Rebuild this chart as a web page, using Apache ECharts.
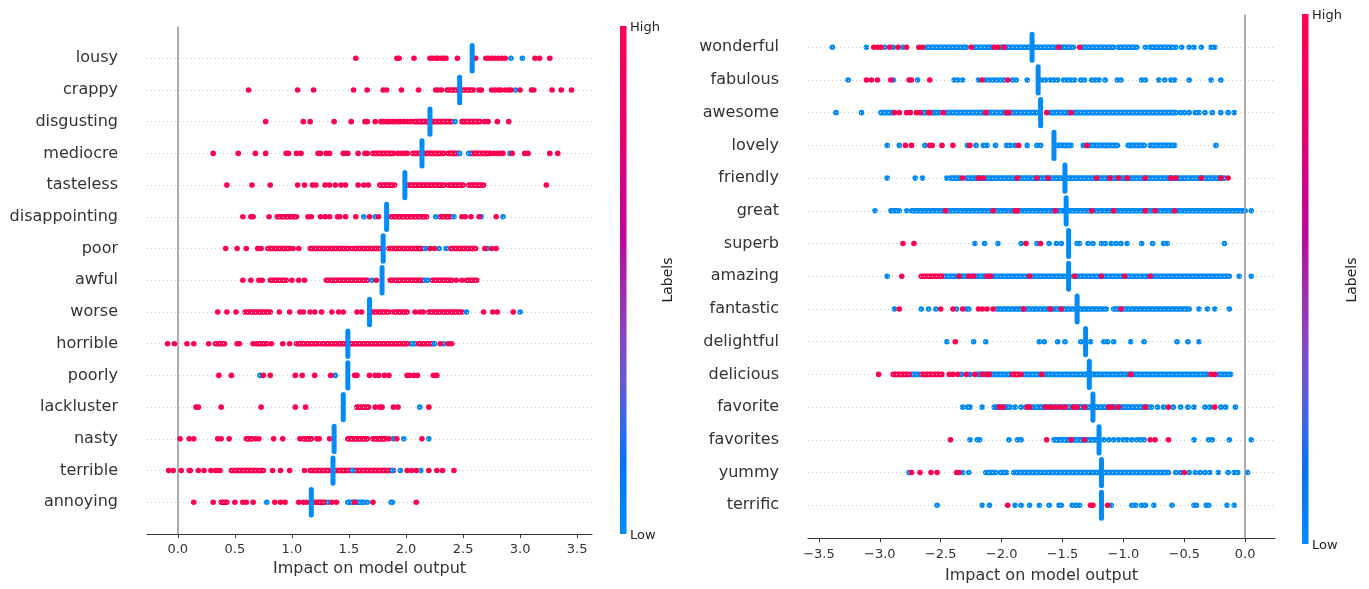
<!DOCTYPE html>
<html><head><meta charset="utf-8">
<script src="https://cdn.jsdelivr.net/npm/echarts@6/dist/echarts.min.js"></script>
<style>html,body{margin:0;padding:0;background:#fff}#c{width:1369px;height:589px}</style>
</head><body><div id="c"></div>
<script>
// ---------------- LEFT PANEL DATA (rows listed top to bottom) ----------------
const L_ROWS = ['lousy','crappy','disgusting','mediocre','tasteless','disappointing','poor','awful','worse','horrible','poorly','lackluster','nasty','terrible','annoying'];
const L_TICKS = [0, 0.5, 1, 1.5, 2, 2.5, 3, 3.5];
const L_CLUSTER = [2.58, 2.47, 2.21, 2.14, 1.99, 1.83, 1.80, 1.79, 1.68, 1.49, 1.49, 1.45, 1.37, 1.36, 1.17];
const L_RED_DOTS = [
  [1.56,1.92,1.94,2.07,2.21,2.23,2.26,2.28,2.31,2.33,2.35,2.45,2.61,2.70,2.72,2.75,2.78,2.81,2.84,2.87,3.13,3.17,3.26],
  [0.62,1.05,1.19,1.54,1.66,1.80,1.83,1.96,2.11,2.26,2.28,2.31,2.64,2.66,2.75,2.78,2.81,2.83,2.87,2.90,2.92,3.00,3.10,3.12,3.28,3.36,3.45],
  [0.77,1.10,1.16,1.37,1.52,1.64,1.66,1.73,1.78,1.80,1.83,1.85,1.88,1.90,1.93,1.95,1.98,2.01,2.04,2.69,2.72,2.80,2.90],
  [0.31,0.53,0.68,0.77,0.95,0.97,1.04,1.08,1.23,1.25,1.30,1.33,1.45,1.49,1.58,1.64,1.66,1.93,1.96,1.99,2.01,2.77,2.80,2.83,2.85,2.93,3.04,3.07,3.26,3.33],
  [0.43,0.65,0.81,1.05,1.11,1.18,1.21,1.29,1.33,1.38,1.43,1.47,1.58,1.63,1.67,3.23],
  [0.57,0.64,0.66,0.80,1.14,1.17,1.25,1.29,1.33,1.40,1.42,1.47,1.56,1.68,1.76,2.49,2.52,2.57,2.64,2.79],
  [0.42,0.52,0.60,0.70,0.73,1.01,1.06,2.21,2.25,2.69,2.75,2.79],
  [0.57,0.64,0.71,0.74,1.00,1.06,1.11,1.74,2.44,2.49],
  [0.35,0.43,0.51,0.89,0.98,1.07,1.10,1.16,1.20,1.26,1.35,1.41,1.45,1.57,1.61,2.08,2.12,2.15,2.68,2.76,2.80,2.94],
  [-0.09,-0.03,0.08,0.14,0.27,0.52,0.54,0.66,0.82,0.92,0.98,2.30,2.37,2.40],
  [0.36,0.47,0.75,0.81,1.03,1.09,1.20,1.34,1.55,1.57,1.68,1.73,1.76,1.81,1.85,2.01,2.03,2.07,2.10,2.24,2.27],
  [0.16,0.18,0.38,0.73,1.03,1.12,1.73,1.77,1.79,1.89,1.93,2.20],
  [0.02,0.10,0.14,0.35,0.38,0.45,0.68,0.71,0.84,0.92,1.07,1.22,1.24,1.33,1.85,1.92,2.14],
  [-0.08,-0.04,0.03,0.10,0.11,0.18,0.23,0.29,0.33,0.35,0.37,0.83,0.90,0.98,1.11,2.01,2.05,2.09,2.20,2.27,2.32,2.42],
  [0.14,0.31,0.50,0.57,0.60,0.66,0.85,0.90,0.94,1.06,1.10,1.13,1.20,1.35,1.39,1.55,1.71,2.09]
];
const L_BLUE_DOTS = [
  [2.92,3.02],[2.96],[2.43],[1.47,2.47,2.55,2.91],[],
  [1.63,1.73,2.26,2.42,2.66,2.85],[2.17,2.29,2.35,2.71],[1.70,2.17,2.19],[2.53,3.00],[2.25,2.33],
  [0.72,1.38],[2.12],[1.89,1.98,2.20],[1.53,1.88,1.95,2.13],[0.78,1.32,1.66,1.87,1.88]
];
const L_RED_BANDS = [
  [],
  [[2.36,2.46],[2.50,2.59]],
  [[2.07,2.20],[2.23,2.40],[2.49,2.65]],
  [[1.71,1.89],[2.06,2.11],[2.17,2.33],[2.37,2.46],[2.56,2.74]],
  [[1.77,1.90],[2.02,2.34],[2.37,2.50],[2.55,2.68]],
  [[0.87,1.04],[1.87,2.18],[2.30,2.39]],
  [[0.79,0.98],[1.16,1.51],[1.54,1.79],[1.85,2.14],[2.39,2.61]],
  [[0.81,0.95],[1.30,1.66],[1.86,2.15],[2.23,2.40],[2.53,2.62]],
  [[0.59,0.81],[1.71,1.85],[1.89,2.01],[2.20,2.49]],
  [[0.33,0.41],[0.69,0.78],[1.04,1.23],[1.26,2.01],[2.11,2.24]],
  [],
  [[1.57,1.67]],
  [[0.60,0.65],[1.10,1.17],[1.49,1.66],[1.71,1.82]],
  [[0.47,0.75],[1.16,1.33],[1.38,1.89]],
  [[0.38,0.43],[1.22,1.29]]
];
const L_BLUE_BANDS = [[],[],[],[],[],[],[],[],[],[[2.04,2.08]],[],[],[],[],[[1.49,1.63]]];

// ---------------- RIGHT PANEL DATA (rows listed top to bottom) ----------------
const R_ROWS = ['wonderful','fabulous','awesome','lovely','friendly','great','superb','amazing','fantastic','delightful','delicious','favorite','favorites','yummy','terrific'];
const R_TICKS = [-3.5, -3, -2.5, -2, -1.5, -1, -0.5, 0];
const R_CLUSTER = [-1.75, -1.70, -1.68, -1.57, -1.48, -1.47, -1.45, -1.45, -1.38, -1.31, -1.28, -1.25, -1.20, -1.18, -1.18];
const R_RED_DOTS = [
  [-3.05,-3.02,-2.99,-2.92,-2.85,-2.78,-2.68,-2.65,-2.25,-2.06,-2.03,-1.98,-1.53,-1.36],
  [-3.11,-3.07,-3.02,-2.91,-2.76,-2.74,-2.59,-2.16,-1.95],
  [-2.88,-2.84,-2.78,-2.75,-2.70,-2.67,-2.60,-2.59,-2.48,-2.13,-1.96,-1.94,-1.63,-1.43],
  [-2.79,-2.74,-2.59,-2.57,-2.49,-2.40,-2.26,-1.86,-1.30],
  [-2.32,-2.19,-2.15,-1.87,-1.71,-1.62,-1.22,-1.11,-1.04,-0.97,-0.82,-0.61,-0.57,-0.36,-0.20,-0.14],
  [-2.46,-2.07,-1.89,-1.87,-1.56,-1.26,-1.08,-0.82,-0.74,-0.58],
  [-2.81,-2.72,-1.80,-1.68],
  [-2.82,-2.35,-2.27,-2.23,-2.12,-2.09,-1.77,-1.40,-1.18,-0.99,-0.78],
  [-2.84,-2.50,-2.40,-2.32,-2.19,-2.16,-2.12,-2.07,-1.82,-1.60,-1.51,-1.02],
  [-2.38],
  [-3.01,-2.43,-2.40,-2.36,-2.29,-2.22,-2.16,-2.12,-2.10,-1.84,-1.67,-0.94,-0.28,-0.25],
  [-2.02,-1.99,-1.79,-1.77,-1.64,-1.60,-1.56,-1.52,-1.48,-1.41,-1.38,-1.32,-1.12,-1.09,-1.04,-0.82,-0.63,-0.25],
  [-2.42,-1.63,-1.43,-1.32,-0.78,-0.74,-0.63],
  [-2.74,-2.67,-2.58,-2.53,-2.37,-2.35,-0.50],
  [-1.95,-1.27,-1.25,-1.13]
];
const R_BLUE_DOTS = [
  [-3.39,-3.11,-2.96,-2.89,-2.81,-0.82,-0.57,-0.52,-0.46,-0.42,-0.36,-0.28,-0.25],
  [-3.26,-2.89,-2.69,-2.39,-2.36,-2.32,-2.19,-2.13,-2.10,-2.07,-2.04,-2.01,-1.98,-1.91,-1.88,-1.79,-1.67,-1.64,-1.60,-1.57,-1.54,-1.49,-1.46,-1.43,-1.40,-1.35,-1.32,-1.26,-1.23,-1.20,-1.15,-1.05,-1.02,-0.85,-0.82,-0.71,-0.66,-0.61,-0.58,-0.46,-0.28,-0.20],
  [-3.36,-3.15,-0.53,-0.50,-0.46,-0.41,-0.38,-0.33,-0.27,-0.20,-0.14,-0.09],
  [-2.94,-2.84,-2.63,-2.28,-2.21,-2.15,-2.12,-2.05,-1.96,-1.93,-1.89,-1.79,-1.71,-1.68,-1.33,-0.24],
  [-2.94,-2.71,-2.65,-2.45],
  [-3.04,-2.78,0.05],
  [-2.22,-2.14,-2.03,-1.84,-1.71,-1.61,-1.55,-1.51,-1.38,-1.36,-1.29,-1.25,-1.18,-1.15,-1.10,-1.06,-1.02,-0.97,-0.85,-0.76,-0.67,-0.64,-0.17],
  [-2.94,-0.05,0.05],
  [-2.88,-2.66,-2.60,-2.54,-2.37,-2.29,-2.27,-1.14,-0.38,-0.31,-0.25,-0.13],
  [-2.45,-2.23,-2.13,-1.69,-1.65,-1.54,-1.48,-1.35,-1.27,-1.16,-1.13,-1.08,-0.94,-0.83,-0.56,-0.47,-0.38],
  [-2.33,-2.26],
  [-2.32,-2.28,-2.26,-2.16,-1.89,-1.84,-0.77,-0.72,-0.67,-0.59,-0.53,-0.47,-0.42,-0.33,-0.29,-0.20,-0.16,-0.08],
  [-2.26,-2.20,-2.18,-1.94,-1.87,-1.84,-1.16,-1.12,-1.08,-1.04,-1.00,-0.97,-0.93,-0.89,-0.86,-0.83,-0.42,-0.30,-0.27,-0.13,0.05],
  [-2.76,-2.32,-2.27,-0.57,-0.53,-0.46,-0.41,-0.37,-0.33,-0.29,-0.22,-0.14,-0.09,-0.06,0.02],
  [-2.53,-2.16,-2.10,-1.89,-1.84,-1.77,-1.69,-1.61,-1.53,-1.51,-1.42,-1.39,-1.36,-1.10,-0.93,-0.90,-0.85,-0.82,-0.75,-0.60,-0.42,-0.40,-0.32,-0.30,-0.15,-0.09]
];
const R_RED_BANDS = [[],[],[],[],[],[],[],[[-2.66,-2.49]],[],[],[[-2.89,-2.76],[-2.65,-2.49],[-1.91,-1.86]],[],[],[],[]];
const R_BLUE_BANDS = [
  [[-2.62,-2.29],[-2.23,-2.07],[-2.01,-1.76],[-1.73,-1.41],[-1.35,-1.08],[-1.04,-0.89],[-0.78,-0.60]],
  [],
  [[-2.99,-2.89],[-2.65,-2.62],[-2.57,-2.51],[-2.46,-1.71],[-1.60,-1.44],[-1.41,-0.57]],
  [[-1.54,-1.43],[-1.29,-1.05],[-0.96,-0.83],[-0.78,-0.58]],
  [[-2.42,-2.34],[-2.29,-0.17]],
  [[-2.91,-2.84],[-2.74,0.0]],
  [],
  [[-2.48,-1.48],[-1.41,-0.13]],
  [[-2.04,-1.41],[-1.37,-1.16],[-1.08,-0.46]],
  [],
  [[-2.74,-2.67],[-2.20,-1.92],[-1.82,-1.68],[-1.65,-0.31],[-0.22,-0.12]],
  [[-2.06,-1.93],[-1.80,-0.80]],
  [[-1.57,-1.22]],
  [[-2.13,-2.05],[-2.01,-1.96],[-1.90,-1.67],[-1.65,-0.63]],
  []
];

// ---------------- STYLE ----------------
const RED = '#ff0051', BLUE = '#008bfb';
const DOT = 5.6, BAR = 5, ROW_H = 0.4;
const FONT = 'DejaVu Sans';

function dotsData(arr) { const d = []; arr.forEach((xs, i) => xs.forEach(x => d.push([x, i]))); return d; }
function bandsData(arr) { const d = []; arr.forEach((bs, i) => bs.forEach(b => d.push([b[0], b[1], i]))); return d; }

function bandSeries(k, data, color) {
  return { type: 'custom', xAxisIndex: k, yAxisIndex: k, z: 3, silent: true, data,
    encode: { x: [0, 1], y: 2 },
    renderItem: (p, api) => {
      const a = api.coord([api.value(0), api.value(2)]);
      const b = api.coord([api.value(1), api.value(2)]);
      return { type: 'line', shape: { x1: a[0], y1: a[1], x2: b[0], y2: b[1] },
        style: { stroke: color, lineWidth: DOT, lineCap: 'round' } };
    } };
}
function clusterSeries(k, xs) {
  return { type: 'custom', xAxisIndex: k, yAxisIndex: k, z: 6, silent: true,
    data: xs.map((x, i) => [x, i]), encode: { x: 0, y: 1 },
    renderItem: (p, api) => {
      const a = api.coord([api.value(0), api.value(1) - ROW_H]);
      const b = api.coord([api.value(0), api.value(1) + ROW_H]);
      return { type: 'line', shape: { x1: a[0], y1: a[1], x2: b[0], y2: b[1] },
        style: { stroke: BLUE, lineWidth: BAR, lineCap: 'round' } };
    } };
}
function dotSeries(k, data, color, z) {
  return { type: 'scatter', xAxisIndex: k, yAxisIndex: k, z, silent: true, data,
    symbolSize: DOT, itemStyle: { color, opacity: 1 } };
}
function guideSeries(k, rows) {
  return [
    { type: 'scatter', xAxisIndex: k, yAxisIndex: k, z: 1, silent: true, data: [], symbolSize: 0,
      markLine: { silent: true, symbol: ['none', 'none'], label: { show: false }, animation: false,
        lineStyle: { color: '#cccccc', width: 1, type: [1, 3] },
        data: rows.map((_, i) => ({ yAxis: i })) } },
    { type: 'scatter', xAxisIndex: k, yAxisIndex: k, z: 2, silent: true, data: [], symbolSize: 0,
      markLine: { silent: true, symbol: ['none', 'none'], label: { show: false }, animation: false,
        lineStyle: { color: '#999999', width: 1.6, type: 'solid' },
        data: [{ xAxis: 0 }] } }
  ];
}
function panel(k, rows, cluster, redDots, blueDots, redBands, blueBands) {
  return [
    ...guideSeries(k, rows),
    bandSeries(k, bandsData(blueBands), BLUE),
    bandSeries(k, bandsData(redBands), RED),
    dotSeries(k, dotsData(blueDots), BLUE, 4),
    dotSeries(k, dotsData(redDots), RED, 5),
    clusterSeries(k, cluster)
  ];
}
function xAxis(k, min, max, ticks, gap, margin) {
  return { type: 'value', gridIndex: k, min, max, splitLine: { show: false },
    axisLine: { onZero: false, lineStyle: { color: '#333', width: 1 } },
    axisTick: { show: true, length: 4, customValues: ticks, lineStyle: { color: '#333' } },
    axisLabel: { customValues: ticks, fontSize: 13, color: '#333', fontFamily: FONT, margin: margin,
      formatter: v => (v < 0 ? '\u2212' : '') + Math.abs(v).toFixed(1) },
    name: 'Impact on model output', nameLocation: 'middle', nameGap: gap,
    nameTextStyle: { fontSize: 16, color: '#333', fontFamily: FONT } };
}
function yAxis(k, rows) {
  return { type: 'value', gridIndex: k, min: -1, max: 15, interval: 1, inverse: true,
    axisLine: { show: false }, axisTick: { show: false }, splitLine: { show: false },
    axisLabel: { fontSize: 16, color: '#333', fontFamily: FONT, margin: 29,
      formatter: v => rows[v] || '' } };
}
const grad = { type: 'linear', x: 0, y: 0, x2: 0, y2: 1, colorStops: [
  { offset: 0, color: '#ff0052' }, { offset: 0.2, color: '#e9006b' }, { offset: 0.4, color: '#c1009a' },
  { offset: 0.5, color: '#a626ac' }, { offset: 0.6, color: '#8a42c2' }, { offset: 0.7, color: '#6658da' },
  { offset: 0.8, color: '#2a6cef' }, { offset: 0.86, color: '#0074f3' }, { offset: 1, color: '#008bfb' } ] };
function colorbar(x, top, h, labelX) {
  return [
    { type: 'rect', x: x, y: top, shape: { width: 6.5, height: h }, style: { fill: grad }, silent: true },
    { type: 'text', x: x + 10, y: top + 2, style: { text: 'High', fontSize: 13, fill: '#222', fontFamily: FONT, align: 'left', verticalAlign: 'middle' } },
    { type: 'text', x: x + 10, y: top + h + 2, style: { text: 'Low', fontSize: 13, fill: '#222', fontFamily: FONT, align: 'left', verticalAlign: 'middle' } },
    { type: 'text', x: labelX, y: 280, rotation: Math.PI / 2, style: { text: 'Labels', fontSize: 14, fill: '#222', fontFamily: FONT, align: 'center', verticalAlign: 'middle' } }
  ];
}

const chart = echarts.init(document.getElementById('c'), null, { renderer: 'canvas' });
chart.setOption({
  backgroundColor: '#fff',
  animation: false,
  grid: [
    { left: 147, top: 26.5, width: 445, height: 507.5 },
    { left: 808, top: 14.5, width: 467, height: 529.5 }
  ],
  xAxis: [ xAxis(0, -0.27, 3.63, L_TICKS, 27, 9), xAxis(1, -3.59, 0.245, R_TICKS, 30, 10) ],
  yAxis: [ yAxis(0, L_ROWS), yAxis(1, R_ROWS) ],
  series: [
    ...panel(0, L_ROWS, L_CLUSTER, L_RED_DOTS, L_BLUE_DOTS, L_RED_BANDS, L_BLUE_BANDS),
    ...panel(1, R_ROWS, R_CLUSTER, R_RED_DOTS, R_BLUE_DOTS, R_RED_BANDS, R_BLUE_BANDS)
  ],
  graphic: [ ...colorbar(620, 26, 508, 668), ...colorbar(1302, 14, 530, 1352) ]
});
</script></body></html>
